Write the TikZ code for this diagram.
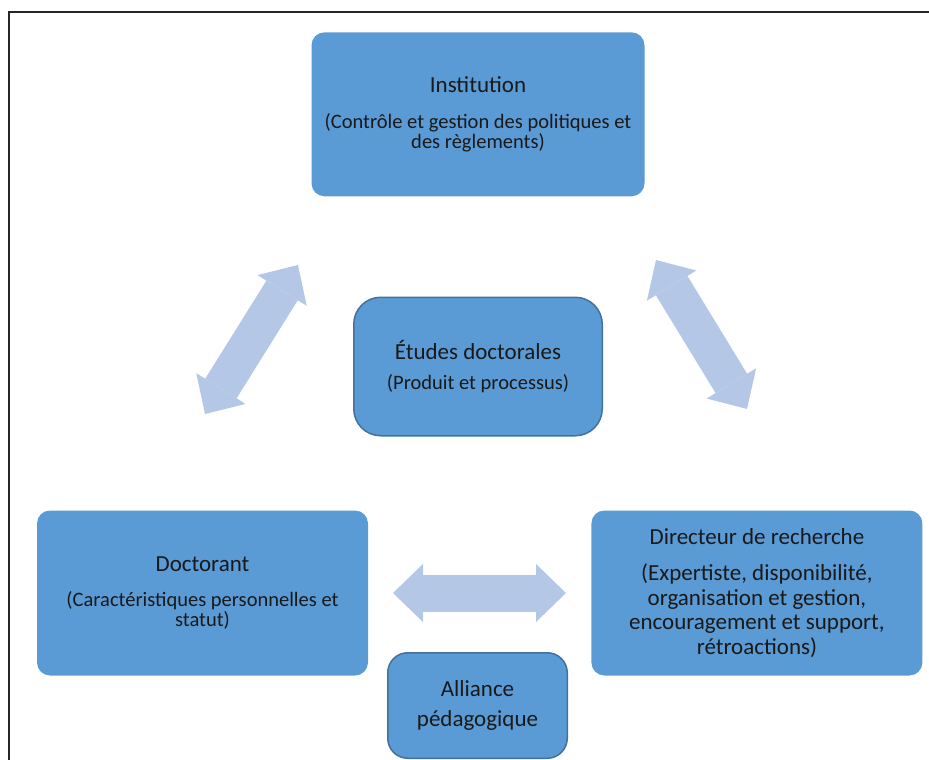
\documentclass[tikz,border=0pt]{standalone}
\usepackage{fontspec}
\setmainfont{Carlito}
\usetikzlibrary{arrows.meta,positioning}
\definecolor{bleu}{HTML}{5B9BD5}
\definecolor{bord}{HTML}{41719C}
\definecolor{clair}{HTML}{B4C7E7}
\newcommand{\titre}[1]{{\fontsize{23}{24.5}\selectfont #1}}

\begin{document}
\begin{tikzpicture}[x=1pt,y=-1pt,
  boite/.style={fill=bleu,rounded corners=13pt,inner sep=0pt,align=center,
                minimum width=333pt,minimum height=164pt,text=black!90},
  cadre/.style={boite,draw=bord,line width=1.5pt,rounded corners=#1},
  petit/.style={font=\fontsize{20.5}{20}\selectfont},
  grand/.style={font=\fontsize{23}{24.5}\selectfont},
  fleche/.style={draw=clair,line width=37pt,<->,
                 >={Triangle[length=30pt,width=58pt,line width=0pt]}}
]
\useasboundingbox (0,0) rectangle (929,760);
% cadre
\draw[line width=1.5pt,black!85] (9,760) |- (929,12);

% fleches
\coordinate (g1) at (205,414);
\coordinate (g2) at (298,265);
\coordinate (d1) at (656,260);
\coordinate (d2) at (747,409);
\coordinate (h1) at (393,593);
\coordinate (h2) at (566,593);
\draw[fleche] (g1) -- (g2);
\draw[fleche] (d1) -- (d2);
\draw[fleche] (h1) -- (h2);

\node[cadre=27pt,petit,minimum width=248.5pt,minimum height=138.5pt] (etudes) at (478,366.5)
  {\titre{Études doctorales}\\[10pt](Produit et processus)};
\node[boite,petit,above=100pt of etudes] (inst)
  {\titre{Institution}\\[16pt](Contrôle et gestion des politiques et\\des règlements)};
\node[boite,petit,minimum width=331pt,minimum height=165pt] (doct) at (202.5,593)
  {\titre{Doctorant}\\[15pt](Caractéristiques personnelles et\\statut)};
\node[boite,grand,minimum width=331pt,minimum height=165pt,right=223pt of doct] (dir)
  {Directeur de recherche\\[11.5pt](Expertiste, disponibilité,\\organisation et gestion,\\encouragement et support,\\rétroactions)};
\node[cadre=20pt,grand,minimum width=179.5pt,minimum height=105.5pt] (alliance) at (477.5,705.5)
  {Alliance\\[5.5pt]pédagogique};
\end{tikzpicture}
\end{document}
